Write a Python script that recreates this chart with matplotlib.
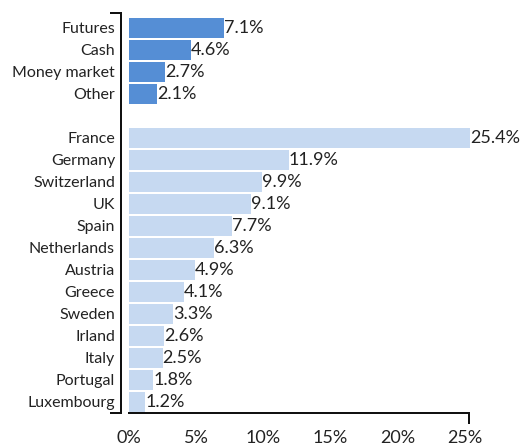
import matplotlib
matplotlib.use("Agg")
import matplotlib.pyplot as plt
import numpy as np

categories = ["Futures", "Cash", "Money market", "Other",
              "France", "Germany", "Switzerland", "UK", "Spain", "Netherlands",
              "Austria", "Greece", "Sweden", "Irland", "Italy", "Portugal", "Luxembourg"]
values = [7.1, 4.6, 2.7, 2.1,
          25.4, 11.9, 9.9, 9.1, 7.7, 6.3, 4.9, 4.1, 3.3, 2.6, 2.5, 1.8, 1.2]
groups = ["a"] * 4 + ["b"] * 13
xticks = [0, 5, 10, 15, 20, 25]
xticklabels = ["0%", "5%", "10%", "15%", "20%", "25%"]

colors = {"a": "#558ED5", "b": "#C6D9F1"}

plt.rcParams['font.family'] = ['Lato', 'DejaVu Sans']
FS_LAB = 11.5
FS_VAL = 13

W, H = 521, 448
PX = 72 / 100
fig = plt.figure(figsize=(W / 100, H / 100), dpi=100)
x0, xmax = 129, 26
scale = 13.43
ax = fig.add_axes([x0 / W, (H - 413) / H, (xmax * scale) / W, 400 / H])

pos = []
p = 0
prev = groups[0]
for g in groups:
    if g != prev:
        p += 1
        prev = g
    pos.append(p)
    p += 1
pos = np.array(pos)

bar_cols = [colors[g] for g in groups]
ax.barh(pos, values, height=0.91, color=bar_cols, linewidth=0)
for y, v in zip(pos, values):
    ax.text(v, y, f"{v:.1f}%", va="center", ha="left", fontsize=FS_VAL, color="#222222")

ymin, ymax = -0.68, pos[-1] + 0.5
ax.set_ylim(ymax, ymin)
ax.set_xlim(0, xmax)

xend = 25.3
ax.set_yticks(pos, categories)
ax.set_yticks([ymin, ymax], minor=True)
ax.set_xticks(xticks, xticklabels)
ax.set_xticks([0, xend], minor=True)

ax.tick_params(axis="y", which="major", length=0, pad=6 * PX, labelsize=FS_LAB, labelcolor="#222222")
ax.tick_params(axis="x", which="major", length=0, pad=17 * PX, labelsize=FS_VAL, labelcolor="#222222")
ax.tick_params(axis="both", which="minor", length=11 * PX, width=2 * PX, color="#111111")

for s in ["top", "right"]:
    ax.spines[s].set_visible(False)
ax.spines["left"].set_position(("outward", 8 * PX))
ax.spines["bottom"].set_bounds(0, xend)
for s in ["left", "bottom"]:
    ax.spines[s].set_linewidth(2 * PX)
    ax.spines[s].set_color("#111111")

fig.savefig("out.png", dpi=100)
